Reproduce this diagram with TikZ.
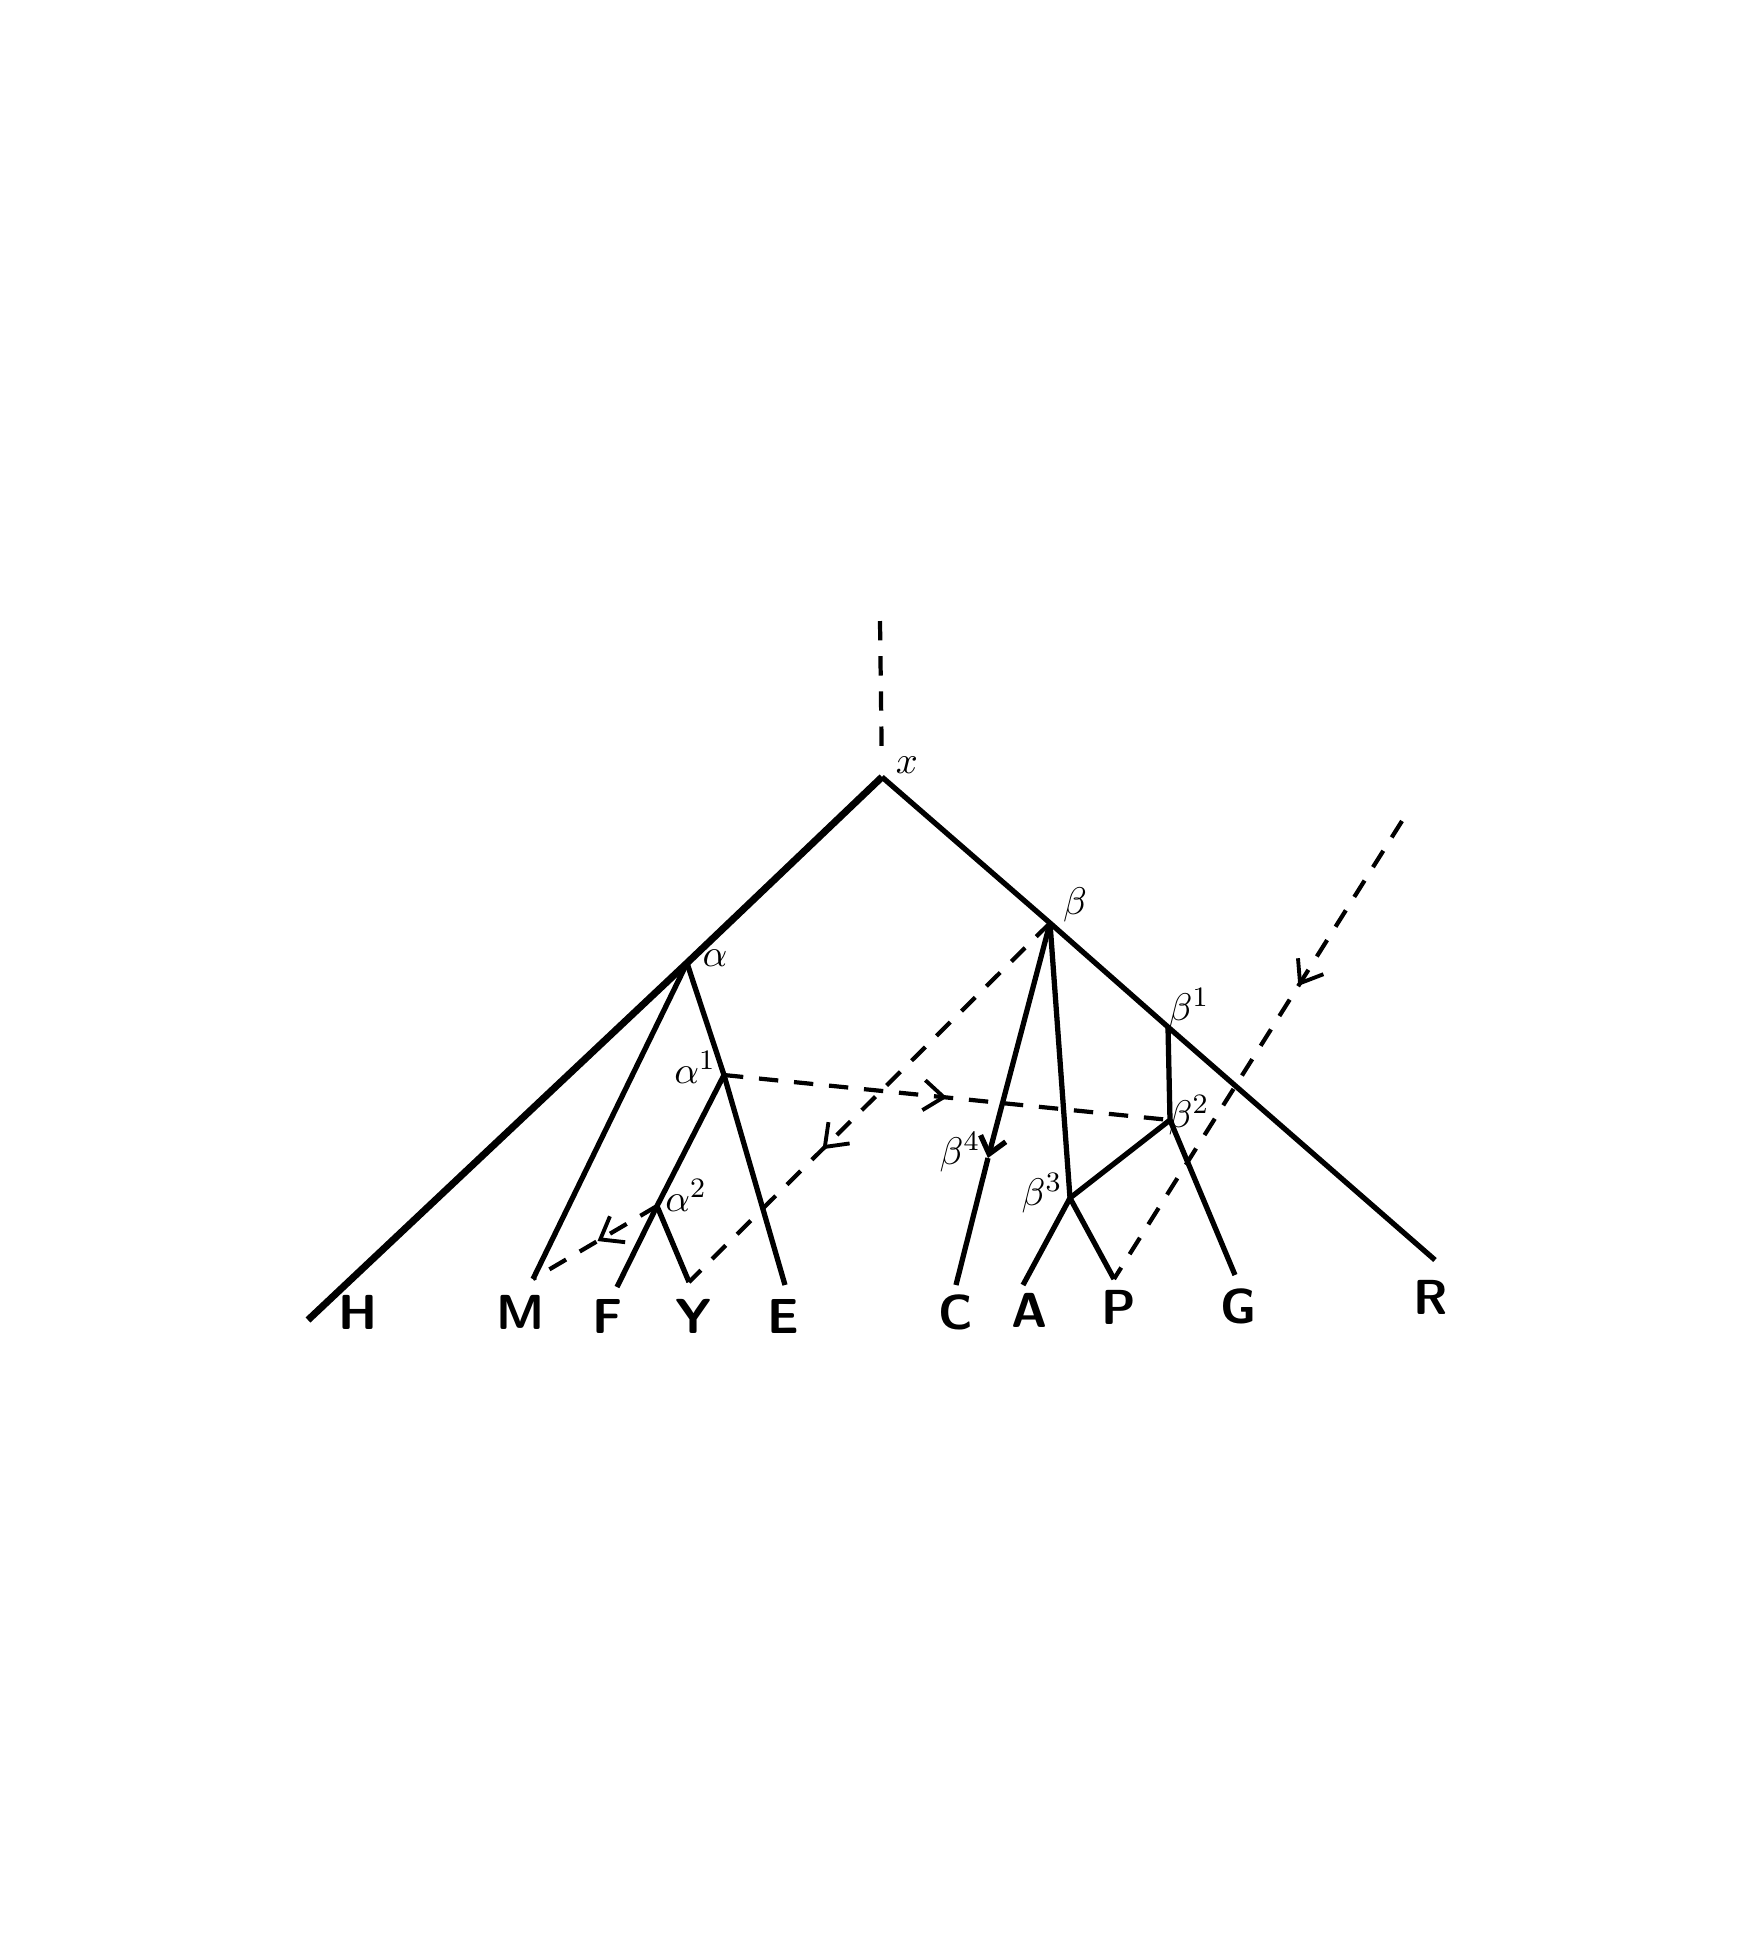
\documentclass[tikz,border=0pt]{standalone}
\usepackage{amsmath,amssymb}
\usetikzlibrary{arrows.meta,decorations.markings}

\tikzset{
  branch/.style={line width=1.5pt},
  trunk/.style={line width=2pt},
  contam/.style={line width=1.2pt, dash pattern=on 5.5pt off 4.5pt},
  midarrow/.style={postaction={decorate},
    decoration={markings,mark=at position #1 with {\arrow[solid,line width=1.1pt]{Straight Barb[length=2mm,width=3mm]}}}},
  ms/.style={font=\fontsize{14}{16}\selectfont\sffamily\bfseries, inner sep=0pt},
  hyp/.style={font=\fontsize{11}{13}\selectfont, inner sep=0pt}
}

\begin{document}
\begin{tikzpicture}[x=0.01cm,y=-0.01cm]
\useasboundingbox (0,0) rectangle (1764,1956);

\coordinate (top) at (880,621);
\coordinate (x) at (882,777);
\coordinate (a) at (687,963);
\coordinate (a1) at (724,1075);
\coordinate (a2) at (657,1206);
\coordinate (b) at (1050,923);
\coordinate (b1) at (1168,1027);
\coordinate (b2) at (1170,1120);
\coordinate (b3) at (1070,1198);
\coordinate (b4) at (988,1158);
\coordinate (far) at (1402,821);

\coordinate (H) at (308,1320);
\coordinate (M) at (533,1279);
\coordinate (F) at (617,1287);
\coordinate (Y) at (689,1282);
\coordinate (E) at (785,1285);
\coordinate (C) at (956,1285);
\coordinate (A) at (1023,1285);
\coordinate (P) at (1114,1279);
\coordinate (G) at (1235,1275);
\coordinate (R) at (1435,1260);

\node[ms] (lH) at (358,1312) {H};
\node[ms] (lM) at (521,1312) {M};
\node[ms] (lF) at (608,1316) {F};
\node[ms] (lY) at (694,1316) {Y};
\node[ms] (lE) at (783,1316) {E};
\node[ms] (lC) at (956,1312) {C};
\node[ms] (lA) at (1030,1310) {A};
\node[ms] (lP) at (1119,1307) {P};
\node[ms] (lG) at (1239,1306) {G};
\node[ms] (lR) at (1431,1297) {R};

\node[hyp] (lx) at (907,765) {$x$};
\node[hyp] (la) at (715,958) {$\alpha$};
\node[hyp] (la1) at (695,1067) {$\alpha^{1}$};
\node[hyp] (la2) at (686,1195) {$\alpha^{2}$};
\node[hyp] (lb) at (1075,905) {$\beta$};
\node[hyp] (lb1) at (1189,1008) {$\beta^{1}$};
\node[hyp] (lb2) at (1189,1115) {$\beta^{2}$};
\node[hyp] (lb3) at (1042,1193) {$\beta^{3}$};
\node[hyp] (lb4) at (960,1152) {$\beta^{4}$};

\draw[contam, shorten >=0.2cm] (top) -- (x);
\draw[trunk] (H) -- (a) -- (x);
\draw[branch] (x) -- (b) -- (b1) -- (R);
\draw[branch] (a) -- (M);
\draw[branch] (a) -- (a1) -- (E);
\draw[branch] (a1) -- (a2) -- (F);
\draw[branch] (a2) -- (Y);
\draw[branch, -{Straight Barb[length=1.6mm,width=2.6mm]}] (b) -- (b4);
\draw[branch] (b4) -- (C);
\draw[branch] (b) -- (b3);
\draw[branch] (b1) -- (b2) -- (b3);
\draw[branch] (b3) -- (A);
\draw[branch] (b3) -- (P);
\draw[branch] (b2) -- (G);

\draw[contam, midarrow=0.48] (a2) -- (M);
\draw[contam, midarrow=0.63] (b) -- (Y);
\draw[contam, midarrow=0.5] (a1) -- (b2);
\draw[contam, midarrow=0.36] (far) -- (P);
\end{tikzpicture}
\end{document}
